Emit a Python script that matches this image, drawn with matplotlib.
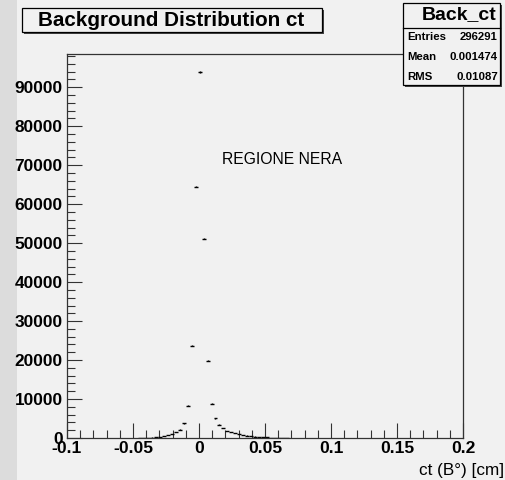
import numpy as np
import matplotlib
matplotlib.use("Agg")
import matplotlib.pyplot as plt
from matplotlib.patches import Rectangle
from matplotlib.ticker import MultipleLocator

plt.rcParams['font.family'] = ['Liberation Sans', 'DejaVu Sans']

# Histogram definition
nbins = 100
xmin, xmax = -0.1, 0.2
first_bin = 18
counts = [20, 40, 70, 120, 200, 320, 480, 700, 1000, 1460, 2140, 3780, 8300,
          23650, 64540, 93850, 51170, 19800, 8820, 5060, 3430, 2490, 1880,
          1500, 1200, 950, 780, 620, 480, 380, 290, 220, 160, 110, 80, 50, 30, 20]
title = "Background Distribution ct"
stat_name = "Back_ct"
stat_labels = ["Entries", "Mean", "RMS"]
stat_values = ["296291", "0.001474", "0.01087"]
xlabel = "ct (B\u00b0) [cm]"
annotation = "REGIONE NERA"

bg = "#f1f1f1"
fig = plt.figure(figsize=(5.06, 4.8), dpi=100, facecolor=bg)
W, H = 506, 480
# left darker strip
strip = Rectangle((0, 0), 17 / W, 1, transform=fig.transFigure,
                  facecolor="#dcdcdc", edgecolor="none", zorder=-10)
fig.patches.append(strip)

ax = fig.add_axes([67 / W, 1 - 438 / H, (463 - 67) / W, (438 - 54) / H])
ax.set_facecolor(bg)
ax.set_zorder(1)

edges = np.linspace(xmin, xmax, nbins + 1)
bw = edges[1] - edges[0]
idx = np.arange(first_bin, first_bin + len(counts))
centers = (edges[idx] + edges[idx + 1]) / 2
cnt = np.array(counts, dtype=float)
ax.errorbar(centers, cnt, xerr=bw / 2, yerr=np.sqrt(cnt), fmt='none',
            ecolor='black', elinewidth=1.0, capsize=0)

ax.set_xlim(xmin, xmax)
ax.set_ylim(0, 1.05 * max(counts))
ax.xaxis.set_major_locator(MultipleLocator(0.05))
ax.xaxis.set_minor_locator(MultipleLocator(0.01))
ax.yaxis.set_major_locator(MultipleLocator(10000))
ax.yaxis.set_minor_locator(MultipleLocator(2000))
ax.tick_params(which='both', direction='in', top=False, right=False,
               color='#333333', width=0.8)
ax.tick_params(which='major', length=11)
ax.tick_params(which='minor', length=5.5)
ax.tick_params(axis='y', which='major', pad=3)
ax.tick_params(axis='x', which='major', pad=2)
xt = [-0.1, -0.05, 0, 0.05, 0.1, 0.15, 0.2]
ax.set_xticks(xt)
ax.set_xticklabels([f"{v:g}" for v in xt], fontweight='bold', fontsize=12.6)
yt = np.arange(0, 100000, 10000)
ax.set_yticks(yt)
ax.set_yticklabels([str(v) for v in yt], fontweight='bold', fontsize=12.4)
for s in ax.spines.values():
    s.set_color('#333333')
    s.set_linewidth(0.9)

fig.text(504 / W, 1 - 470 / H, xlabel, ha='right', va='center', fontsize=12.3)
fig.text(222 / W, 1 - 160 / H, annotation, ha='left', va='center', fontsize=11.3,
         zorder=5)

# boxes with shadow
def box(x0, y0, x1, y1):
    fig.patches.append(Rectangle((x0 / W + 2 / W, 1 - (y1 + 2) / H),
                                 (x1 - x0) / W, (y1 - y0) / H,
                                 transform=fig.transFigure, facecolor='#444444',
                                 edgecolor='none', zorder=5))
    fig.patches.append(Rectangle((x0 / W, 1 - y1 / H), (x1 - x0) / W, (y1 - y0) / H,
                                 transform=fig.transFigure, facecolor=bg,
                                 edgecolor='black', linewidth=0.9, zorder=6))

box(22, 8, 322, 32)
fig.text(171 / W, 1 - 20 / H, title, ha='center', va='center', fontsize=14.9,
         fontweight='bold', zorder=10)

box(403, 3, 500, 85)
fig.add_artist(plt.Line2D([403 / W, 500 / W], [1 - 28 / H, 1 - 28 / H],
                          transform=fig.transFigure, color='black', lw=0.9, zorder=7))
fig.text(459 / W, 1 - 15 / H, stat_name, ha='center', va='center', fontsize=14,
         fontweight='bold', zorder=10)
for i, (l, v) in enumerate(zip(stat_labels, stat_values)):
    yy = 1 - (37 + 20 * i) / H
    fig.text(407 / W, yy, l, ha='left', va='center', fontsize=8.2,
             fontweight='bold', zorder=10)
    fig.text(498 / W, yy, v, ha='right', va='center', fontsize=8.2,
             fontweight='bold', zorder=10)

fig.savefig("out.png", dpi=100, facecolor=bg)
